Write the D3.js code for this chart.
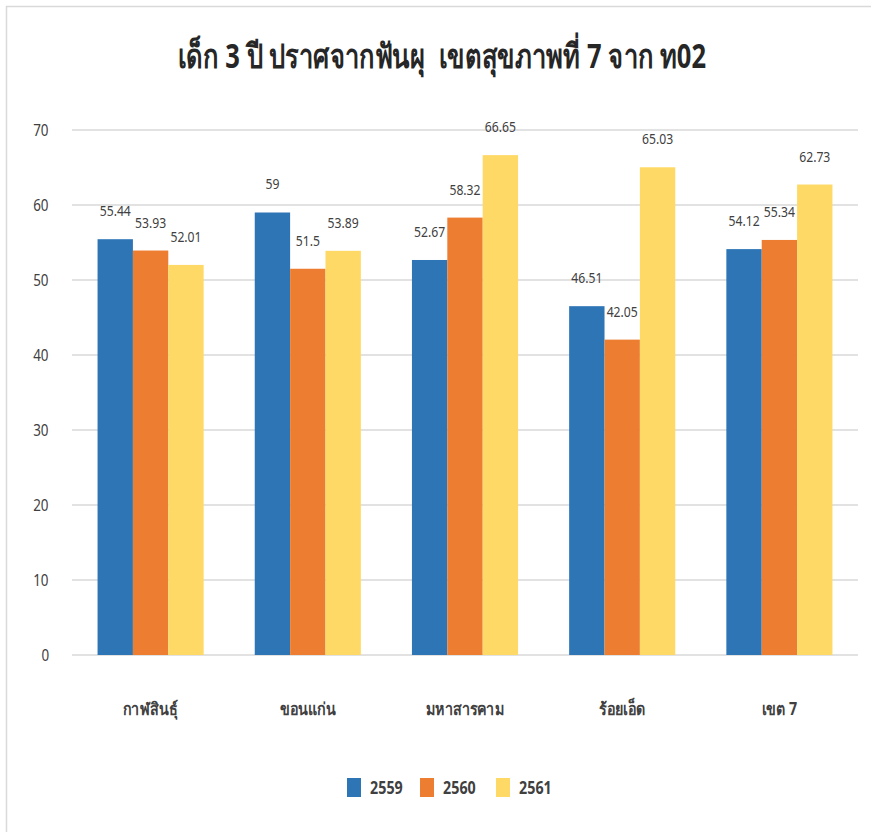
<!DOCTYPE html>
<html>
<head>
<meta charset="utf-8">
<script src="https://cdn.jsdelivr.net/npm/d3@7"></script>
<style>
  html, body { margin: 0; padding: 0; background: #fff; }
  svg { display: block; }
  text { font-family: "Noto Sans", "DejaVu Sans", sans-serif; }
  /* narrow letterforms, squeezed about each label's own centre */
  .narrow { transform-box: fill-box; transform-origin: center; transform: scaleX(0.84); }
  .narrow-title { transform-box: fill-box; transform-origin: center; transform: scaleX(0.75); white-space: pre; }
</style>
</head>
<body>
<svg id="chart" width="871" height="832"></svg>
<script>
const categories = ["กาฬสินธุ์", "ขอนแก่น", "มหาสารคาม", "ร้อยเอ็ด", "เขต 7"];
const years = ["2559", "2560", "2561"];
const values2559 = [55.44, 59, 52.67, 46.51, 54.12];
const values2560 = [53.93, 51.5, 58.32, 42.05, 55.34];
const values2561 = [52.01, 53.89, 66.65, 65.03, 62.73];
const yTicks = [0, 10, 20, 30, 40, 50, 60, 70];
const colors = ["#2E75B6", "#ED7D31", "#FFD966"];
const title = "เด็ก 3 ปี ปราศจากฟันผุ  เขตสุขภาพที่ 7 จาก ท02";

const series = [values2559, values2560, values2561];

const svg = d3.select("#chart");
const W = 871, H = 832;
const margin = { left: 72, right: 13, top: 130, bottom: 177 };

// outer frame
svg.append("path")
  .attr("d", `M6.5,${H} V6.5 H${W}`)
  .attr("fill", "none")
  .attr("stroke", "#d9d9d9")
  .attr("stroke-width", 1.5);

const x0 = d3.scaleBand()
  .domain(categories)
  .range([margin.left, W - margin.right])
  .paddingInner(0.325)
  .paddingOuter(0.1625);

const x1 = d3.scaleBand()
  .domain(years)
  .range([0, x0.bandwidth()]);

const y = d3.scaleLinear()
  .domain([0, 70])
  .range([H - margin.bottom, margin.top]);

// gridlines
svg.append("g")
  .selectAll("line")
  .data(yTicks)
  .join("line")
  .attr("x1", margin.left)
  .attr("x2", W - margin.right)
  .attr("y1", d => y(d))
  .attr("y2", d => y(d))
  .attr("stroke", "#d9d9d9")
  .attr("stroke-width", 1.5);

// y axis labels
const yAxis = d3.axisLeft(y).tickValues(yTicks).tickSize(0).tickPadding(22);
svg.append("g")
  .attr("transform", `translate(${margin.left},0)`)
  .call(yAxis)
  .call(g => g.select(".domain").remove())
  .selectAll("text")
  .attr("class", "narrow")
  .attr("font-size", 16)
  .attr("fill", "#404040")
  .style("font-family", '"Noto Sans", sans-serif');

// bars
const groups = svg.append("g")
  .selectAll("g")
  .data(categories)
  .join("g")
  .attr("transform", d => `translate(${x0(d)},0)`);

groups.selectAll("rect")
  .data((c, i) => years.map((yr, j) => ({ yr, v: series[j][i], j })))
  .join("rect")
  .attr("x", d => x1(d.yr))
  .attr("width", x1.bandwidth())
  .attr("y", d => y(d.v))
  .attr("height", d => y(0) - y(d.v))
  .attr("fill", d => colors[d.j]);

// value labels
groups.selectAll("text.val")
  .data((c, i) => years.map((yr, j) => ({ yr, v: series[j][i], j })))
  .join("text")
  .attr("class", "val narrow")
  .attr("x", d => x1(d.yr) + x1.bandwidth() / 2)
  .attr("y", d => y(d.v) - 23)
  .attr("text-anchor", "middle")
  .attr("font-size", 14.5)
  .attr("fill", "#404040")
  .text(d => d.v);

// category axis
const xAxis = d3.axisBottom(x0).tickSize(0).tickPadding(48);
svg.append("g")
  .attr("transform", `translate(0,${y(0)})`)
  .call(xAxis)
  .call(g => g.select(".domain").remove())
  .selectAll("text")
  .attr("class", "narrow")
  .attr("font-size", 17)
  .attr("font-weight", "bold")
  .attr("fill", "#404040")
  .style("font-family", '"Noto Sans", sans-serif');

// title
svg.append("text")
  .attr("class", "narrow-title")
  .attr("x", 442)
  .attr("y", 68)
  .attr("text-anchor", "middle")
  .attr("font-size", 34)
  .attr("font-weight", "bold")
  .attr("fill", "#262626")
  .text(title);

// legend
const legendX = [347, 420, 496];
const legend = svg.append("g")
  .selectAll("g")
  .data(years)
  .join("g")
  .attr("transform", (d, i) => `translate(${legendX[i]},778)`);
legend.append("rect")
  .attr("width", 14)
  .attr("height", 19)
  .attr("fill", (d, i) => colors[i]);
legend.append("text")
  .attr("class", "narrow")
  .attr("x", 20)
  .attr("y", 16)
  .attr("font-size", 17)
  .attr("font-weight", "bold")
  .attr("fill", "#404040")
  .text(d => d);
</script>
</body>
</html>
